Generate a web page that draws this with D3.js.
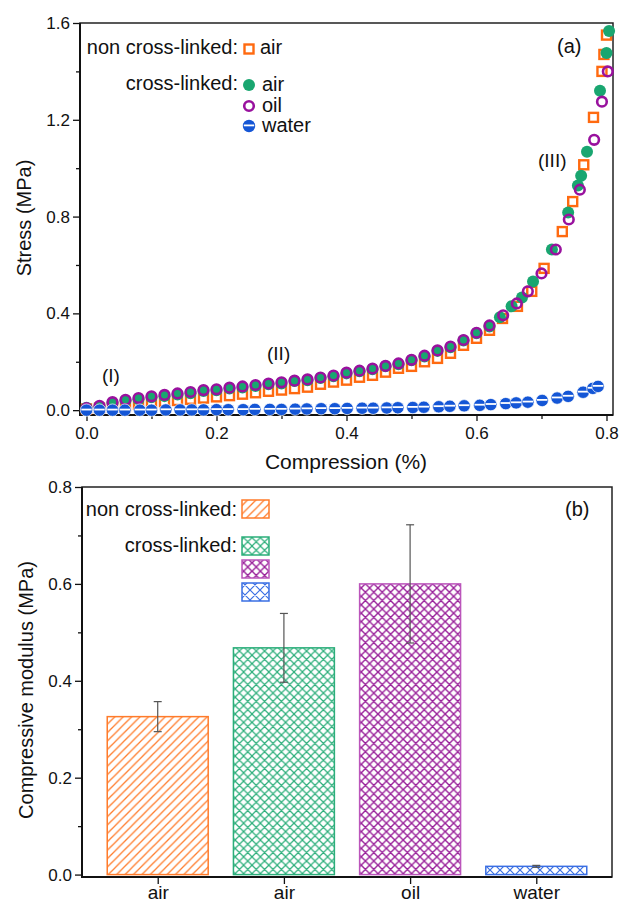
<!DOCTYPE html>
<meta charset="utf-8">
<script src="https://d3js.org/d3.v7.min.js"></script>
<div id="chart"></div>
<style>
  body { margin: 0; background: #fff; }
  text { font-family: "Liberation Sans", Arial, sans-serif; fill: #111; }
</style>
<script>

// ---- panel (a) data: stress vs compression ----
var nonAirX = [0,0.02,0.04,0.06,0.08,0.10,0.12,0.14,0.16,0.18,0.20,0.22,0.24,0.26,0.28,0.30,0.32,0.34,0.36,0.38,0.40,0.42,0.44,0.46,0.48,0.50,0.52,0.54,0.56,0.58,0.60,0.62,0.64,0.663,0.685,0.704,0.732,0.748,0.765,0.78,0.793,0.796,0.80];
var nonAirY = [0.005,0.008,0.012,0.018,0.024,0.03,0.035,0.04,0.045,0.05,0.055,0.06,0.066,0.072,0.078,0.083,0.089,0.095,0.107,0.116,0.124,0.136,0.144,0.157,0.173,0.181,0.20,0.214,0.235,0.268,0.297,0.33,0.379,0.429,0.491,0.586,0.738,0.862,1.014,1.21,1.40,1.47,1.55];

var xlAirX = [0,0.02,0.04,0.06,0.08,0.10,0.12,0.14,0.16,0.18,0.20,0.22,0.24,0.26,0.28,0.30,0.32,0.34,0.36,0.38,0.40,0.42,0.44,0.46,0.48,0.50,0.52,0.54,0.56,0.58,0.60,0.62,0.636,0.654,0.670,0.687,0.716,0.741,0.756,0.761,0.770,0.790,0.800,0.804];
var xlAirY = [0.01,0.015,0.03,0.04,0.045,0.053,0.058,0.065,0.07,0.079,0.082,0.089,0.094,0.10,0.107,0.11,0.12,0.124,0.133,0.14,0.152,0.161,0.169,0.181,0.19,0.206,0.222,0.245,0.26,0.288,0.318,0.346,0.384,0.429,0.466,0.532,0.664,0.817,0.928,0.969,1.068,1.32,1.476,1.567];

var xlOilX = [0,0.02,0.04,0.06,0.08,0.10,0.12,0.14,0.16,0.18,0.20,0.22,0.24,0.26,0.28,0.30,0.32,0.34,0.36,0.38,0.40,0.42,0.44,0.46,0.48,0.50,0.52,0.54,0.56,0.58,0.60,0.62,0.641,0.662,0.679,0.70,0.722,0.742,0.759,0.781,0.793,0.802];
var xlOilY = [0.008,0.018,0.033,0.043,0.05,0.057,0.063,0.069,0.075,0.083,0.086,0.093,0.098,0.104,0.11,0.115,0.122,0.127,0.135,0.143,0.155,0.163,0.172,0.183,0.193,0.208,0.225,0.247,0.263,0.29,0.32,0.35,0.392,0.441,0.491,0.565,0.664,0.788,0.911,1.117,1.275,1.40];

var xlWaterX = [0,0.02,0.04,0.059,0.082,0.10,0.122,0.144,0.162,0.18,0.20,0.218,0.241,0.259,0.282,0.30,0.321,0.339,0.361,0.382,0.401,0.424,0.441,0.462,0.479,0.502,0.519,0.542,0.559,0.581,0.605,0.622,0.645,0.661,0.679,0.701,0.724,0.741,0.764,0.779,0.787];
var xlWaterY = [0,0,0,0,0,0,0.001,0.001,0.001,0.001,0.002,0.002,0.002,0.003,0.003,0.003,0.004,0.005,0.006,0.006,0.007,0.008,0.008,0.009,0.01,0.011,0.012,0.014,0.016,0.018,0.02,0.023,0.027,0.03,0.033,0.04,0.05,0.057,0.074,0.09,0.098];

var xTicksA = [0,0.2,0.4,0.6,0.8];
var yTicksA = [0,0.4,0.8,1.2,1.6];

// ---- panel (b) data: compressive modulus ----
var barLabels = ["air","air","oil","water"];
var modulus   = [0.326,0.468,0.60,0.017];
var modErr    = [0.031,0.071,0.122,0.002];
var yTicksB = [0,0.2,0.4,0.6,0.8];

var colors = {
  orange: "#ff6a10",
  green: "#19a670",
  purple: "#99119e",
  blue: "#1456d6",
  hOrange: "#ff7b2a",
  hGreen: "#2bae7a",
  hPurple: "#981f99",
  hPurpleEdge: "#bb55bb",
  hBlue: "#3a6fe3",
  note: "#6a6a6a"
};

var svg = d3.select("#chart").append("svg")
  .attr("width", 621).attr("height", 905);

// ---------------- panel (a) ----------------
var xA = d3.scaleLinear().domain([-0.01, 0.81]).range([80, 613]);
var yA = d3.scaleLinear().domain([-0.02, 1.6]).range([415, 23]);

var gA = svg.append("g");

function styleAxis(g, fs) {
  g.select(".domain").remove();
  g.selectAll("line").attr("stroke", "#111").attr("stroke-width", 1.3);
  g.selectAll("text").style("font-size", fs + "px").attr("fill", "#111");
}

gA.append("g").attr("transform", "translate(0,415)")
  .call(d3.axisBottom(xA).tickValues(xTicksA).tickSize(6).tickPadding(6).tickFormat(d3.format(".1f")))
  .call(function(g){ styleAxis(g, 17); });
gA.append("g").attr("transform", "translate(0,415)")
  .call(d3.axisBottom(xA).tickValues([0.1,0.3,0.5,0.7]).tickSize(4).tickFormat(""))
  .call(function(g){ styleAxis(g, 17); });
gA.append("g").attr("transform", "translate(80,0)")
  .call(d3.axisLeft(yA).tickValues(yTicksA).tickSize(7).tickPadding(3).tickFormat(d3.format(".1f")))
  .call(function(g){ styleAxis(g, 17); });
gA.append("g").attr("transform", "translate(80,0)")
  .call(d3.axisLeft(yA).tickValues([0.2,0.6,1.0,1.4]).tickSize(4).tickFormat(""))
  .call(function(g){ styleAxis(g, 17); });

gA.append("rect").attr("x", 80).attr("y", 23).attr("width", 533).attr("height", 392)
  .attr("fill", "none").attr("stroke", "#222").attr("stroke-width", 1.5);
gA.append("path").attr("d", "M80,23V415H613").attr("fill", "none").attr("stroke", "#111").attr("stroke-width", 2);

function pts(xs, ys) { return xs.map(function(x, i){ return {x: x, y: ys[i]}; }); }

var marks = gA.append("g");

function drawSquares(data, g) {
  g.selectAll(null).data(data).enter().append("rect")
    .attr("x", function(d){ return xA(d.x) - 4.5; })
    .attr("y", function(d){ return yA(d.y) - 4.5; })
    .attr("width", 9).attr("height", 9)
    .attr("fill", "#fff").attr("stroke", colors.orange).attr("stroke-width", 2.4);
}
function drawDots(data, g) {
  g.selectAll(null).data(data).enter().append("circle")
    .attr("cx", function(d){ return xA(d.x); })
    .attr("cy", function(d){ return yA(d.y); })
    .attr("r", 6).attr("fill", colors.green);
}
function drawRings(data, g) {
  g.selectAll(null).data(data).enter().append("circle")
    .attr("cx", function(d){ return xA(d.x); })
    .attr("cy", function(d){ return yA(d.y); })
    .attr("r", 4.8).attr("fill", "none").attr("stroke", colors.purple).attr("stroke-width", 2.6);
}
function drawHalf(data, g) {
  var s = g.selectAll(null).data(data).enter().append("g")
    .attr("transform", function(d){ return "translate(" + xA(d.x) + "," + yA(d.y) + ")"; });
  s.append("circle").attr("r", 6.2).attr("fill", colors.blue).attr("stroke", "#fff").attr("stroke-width", 0.7);
  s.append("line").attr("x1", -5.2).attr("x2", 5.2).attr("y1", -0.6).attr("y2", -0.6)
    .attr("stroke", "#fff").attr("stroke-width", 1.8);
}

drawSquares(pts(nonAirX, nonAirY), marks);
drawDots(pts(xlAirX, xlAirY), marks);
drawRings(pts(xlOilX, xlOilY), marks);
drawHalf(pts(xlWaterX, xlWaterY), marks);

// legend (a)
var legA = gA.append("g").style("font-size", "20px");
legA.append("text").attr("x", 238).attr("y", 54).attr("text-anchor", "end").text("non cross-linked:");
legA.append("text").attr("x", 238).attr("y", 90).attr("text-anchor", "end").text("cross-linked:");
legA.append("rect").attr("x", 244.5).attr("y", 44.5).attr("width", 9).attr("height", 9)
  .attr("fill", "#fff").attr("stroke", colors.orange).attr("stroke-width", 2.4);
legA.append("circle").attr("cx", 249).attr("cy", 85).attr("r", 6).attr("fill", colors.green);
legA.append("circle").attr("cx", 249).attr("cy", 106).attr("r", 4.8).attr("fill", "none")
  .attr("stroke", colors.purple).attr("stroke-width", 2.6);
var lb = legA.append("g").attr("transform", "translate(249,126)");
lb.append("circle").attr("r", 6.2).attr("fill", colors.blue);
lb.append("line").attr("x1", -5.2).attr("x2", 5.2).attr("y1", -0.6).attr("y2", -0.6)
  .attr("stroke", "#fff").attr("stroke-width", 1.8);
legA.append("text").attr("x", 260).attr("y", 54).text("air");
legA.append("text").attr("x", 262).attr("y", 91).text("air");
legA.append("text").attr("x", 262).attr("y", 112).text("oil");
legA.append("text").attr("x", 262).attr("y", 132).text("water");

gA.append("text").attr("x", 557).attr("y", 53).style("font-size", "20px").text("(a)");
gA.append("text").attr("x", 538).attr("y", 167).style("font-size", "19px").attr("fill", colors.note).text("(III)");
gA.append("text").attr("x", 267).attr("y", 360).style("font-size", "19px").attr("fill", colors.note).text("(II)");
gA.append("text").attr("x", 102).attr("y", 382).style("font-size", "19px").attr("fill", colors.note).text("(I)");

gA.append("text").attr("x", 346).attr("y", 469).attr("text-anchor", "middle")
  .style("font-size", "21px").text("Compression (%)");
gA.append("text").attr("transform", "translate(31,218) rotate(-90)").attr("text-anchor", "middle")
  .style("font-size", "20px").text("Stress (MPa)");

// ---------------- panel (b) ----------------
var xB = d3.scaleLinear().domain([0.4, 4.6]).range([82, 612]);
var yB = d3.scaleLinear().domain([-0.005, 0.8]).range([877, 487]);
var bw = xB(1.4) - xB(0.6);

var defs = svg.append("defs");
function hatch(id, size, col, w, diag) {
  var p = defs.append("pattern").attr("id", id).attr("patternUnits", "userSpaceOnUse")
    .attr("width", size).attr("height", size);
  var d = "M0," + size + "L" + size + ",0M" + (-size/4) + "," + (size/4) + "L" + (size/4) + "," + (-size/4) +
          "M" + (size*3/4) + "," + (size*5/4) + "L" + (size*5/4) + "," + (size*3/4);
  if (diag) d += "M0,0L" + size + "," + size + "M" + (-size/4) + "," + (size*3/4) + "L" + (size/4) + "," + (size*5/4) +
          "M" + (size*3/4) + "," + (-size/4) + "L" + (size*5/4) + "," + (size/4);
  p.append("path").attr("d", d).attr("stroke", col).attr("stroke-width", w).attr("fill", "none");
}
hatch("pOrange", 8.4, colors.hOrange, 1.3, false);
hatch("pGreen", 8.4, colors.hGreen, 1.2, true);
hatch("pPurple", 8.4, colors.hPurple, 1.4, true);
hatch("pBlue", 10, colors.hBlue, 1.2, true);

var fills = ["url(#pOrange)", "url(#pGreen)", "url(#pPurple)", "url(#pBlue)"];
var edges = [colors.hOrange, colors.hGreen, colors.hPurpleEdge, colors.hBlue];

var gB = svg.append("g");

gB.append("g").attr("transform", "translate(0,877)")
  .call(d3.axisBottom(xB).tickValues([1,2,3,4]).tickSize(7).tickPadding(2).tickFormat(function(d){ return barLabels[d-1]; }))
  .call(function(g){ styleAxis(g, 19); });
gB.append("g").attr("transform", "translate(82,0)")
  .call(d3.axisLeft(yB).tickValues(yTicksB).tickSize(7).tickPadding(3).tickFormat(d3.format(".1f")))
  .call(function(g){ styleAxis(g, 17); });
gB.append("g").attr("transform", "translate(82,0)")
  .call(d3.axisLeft(yB).tickValues([0.1,0.3,0.5,0.7]).tickSize(4).tickFormat(""))
  .call(function(g){ styleAxis(g, 17); });

var bars = modulus.map(function(v, i){ return {i: i + 1, v: v, e: modErr[i]}; });

gB.selectAll(".bar").data(bars).enter().append("rect")
  .attr("x", function(d){ return xB(d.i) - bw / 2; })
  .attr("y", function(d){ return yB(d.v); })
  .attr("width", bw)
  .attr("height", function(d){ return yB(0) - yB(d.v); })
  .attr("fill", function(d){ return fills[d.i - 1]; })
  .attr("stroke", function(d){ return edges[d.i - 1]; })
  .attr("stroke-width", 1.5);

var eb = gB.selectAll(".err").data(bars).enter().append("g").attr("stroke", "#555").attr("stroke-width", 1.2);
eb.append("line")
  .attr("x1", function(d){ return xB(d.i); }).attr("x2", function(d){ return xB(d.i); })
  .attr("y1", function(d){ return yB(d.v - d.e); }).attr("y2", function(d){ return yB(d.v + d.e); });
eb.append("line")
  .attr("x1", function(d){ return xB(d.i) - 4; }).attr("x2", function(d){ return xB(d.i) + 4; })
  .attr("y1", function(d){ return yB(d.v + d.e); }).attr("y2", function(d){ return yB(d.v + d.e); });
eb.append("line")
  .attr("x1", function(d){ return xB(d.i) - 4; }).attr("x2", function(d){ return xB(d.i) + 4; })
  .attr("y1", function(d){ return yB(d.v - d.e); }).attr("y2", function(d){ return yB(d.v - d.e); });

gB.append("rect").attr("x", 82).attr("y", 487).attr("width", 530).attr("height", 390)
  .attr("fill", "none").attr("stroke", "#222").attr("stroke-width", 1.5);
gB.append("path").attr("d", "M82,487V877H612").attr("fill", "none").attr("stroke", "#111").attr("stroke-width", 2);

// legend (b)
var legB = gB.append("g").style("font-size", "20px");
legB.append("text").attr("x", 237).attr("y", 516).attr("text-anchor", "end").text("non cross-linked:");
legB.append("text").attr("x", 237).attr("y", 552).attr("text-anchor", "end").text("cross-linked:");
var swY = [500, 537, 560, 583];
swY.forEach(function(y, i){
  legB.append("rect").attr("x", 242).attr("y", y).attr("width", 27).attr("height", 18)
    .attr("fill", fills[i]).attr("stroke", edges[i]).attr("stroke-width", 1.5);
});

gB.append("text").attr("x", 565).attr("y", 516).style("font-size", "20px").text("(b)");
gB.append("text").attr("transform", "translate(33,690) rotate(-90)").attr("text-anchor", "middle")
  .style("font-size", "20px").text("Compressive modulus (MPa)");

</script>
